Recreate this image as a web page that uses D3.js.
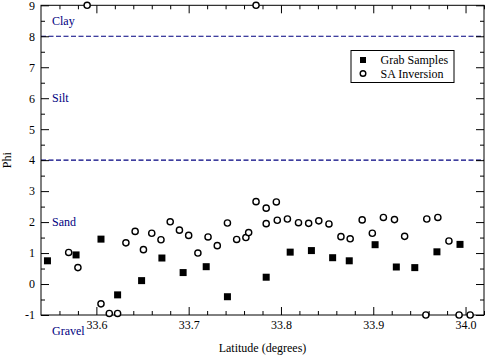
<!DOCTYPE html>
<html>
<head>
<meta charset="utf-8">
<script src="https://cdnjs.cloudflare.com/ajax/libs/d3/7.8.5/d3.min.js"></script>
<style>
  body {
    margin: 0;
    background: #fff;
  }

  svg, svg text {
    font-family: "Liberation Serif", "Times New Roman", Tinos, "DejaVu Serif", serif;
    font-size: 12px;
  }

  .axis path {
    display: none;
  }

  .axis line {
    stroke: #000;
  }

  .zone {
    fill: #000080;
  }

  .boundary {
    fill: none;
    stroke: #000080;
    stroke-width: 1.2px;
    stroke-dasharray: 5,2.5;
  }

  .grab {
    fill: #000;
  }

  .sa {
    fill: #fff;
    stroke: #000;
    stroke-width: 1.4px;
  }
</style>
</head>
<body>
<script>
  // Grab samples (filled squares)
  let grabLat = [33.547, 33.578, 33.605, 33.623, 33.649, 33.671, 33.694, 33.719, 33.742, 33.784,
    33.810, 33.833, 33.856, 33.874, 33.902, 33.925, 33.945, 33.969, 33.994];
  let grabPhi = [0.75, 0.94, 1.45, -0.35, 0.11, 0.84, 0.37, 0.56, -0.41, 0.22,
    1.03, 1.08, 0.85, 0.75, 1.27, 0.55, 0.53, 1.04, 1.28];

  // SA inversion results (open circles)
  let saLat = [33.570, 33.580, 33.590, 33.605, 33.614, 33.623, 33.632, 33.642, 33.651, 33.660,
    33.670, 33.680, 33.690, 33.700, 33.710, 33.721, 33.731, 33.742, 33.752, 33.762,
    33.765, 33.773, 33.773, 33.784, 33.784, 33.795, 33.796, 33.807, 33.819, 33.830,
    33.841, 33.852, 33.865, 33.875, 33.888, 33.899, 33.911, 33.923, 33.934, 33.957,
    33.958, 33.970, 33.982, 33.993, 34.005];
  let saPhi = [1.02, 0.53, 9.0, -0.64, -0.95, -0.95, 1.33, 1.70, 1.11, 1.64,
    1.43, 2.01, 1.74, 1.57, 1.00, 1.52, 1.24, 1.97, 1.44, 1.50,
    1.66, 2.66, 9.0, 2.45, 1.95, 2.65, 2.06, 2.10, 1.98, 1.96,
    2.04, 1.94, 1.53, 1.46, 2.07, 1.64, 2.15, 2.08, 1.54, -1.0,
    2.10, 2.15, 1.39, -1.0, -1.0];

  // sediment class labels and boundaries
  let zoneNames = ['Clay', 'Silt', 'Sand', 'Gravel'];
  let zonePhi = [8.5, 6, 2, -1.52];
  let boundaryPhi = [8, 4];

  // ticks
  let xTicks = [33.6, 33.7, 33.8, 33.9, 34.0];
  let xMinorTicks = [33.56, 33.58, 33.62, 33.64, 33.66, 33.68, 33.72, 33.74, 33.76, 33.78,
    33.82, 33.84, 33.86, 33.88, 33.92, 33.94, 33.96, 33.98, 34.02];
  let yTicks = [-1, 0, 1, 2, 3, 4, 5, 6, 7, 8, 9];
  let yMinorTicks = [-0.5, 0.5, 1.5, 2.5, 3.5, 4.5, 5.5, 6.5, 7.5, 8.5];

  let legendNames = ['Grab Samples', 'SA Inversion'];

  let serif = '"Liberation Serif", "Times New Roman", Tinos, "DejaVu Serif", serif';

  let width = 485;
  let height = 357;
  let plot = {left: 41, right: 484, top: 5.3, bottom: 315};

  let svg = d3.select('body').append('svg')
    .attr('width', width)
    .attr('height', height)
    .attr('font-family', serif);

  let scaleX = d3.scaleLinear()
    .domain([33.54, 34.02])
    .range([plot.left, plot.right]);

  let scaleY = d3.scaleLinear()
    .domain([-1, 9])
    .range([plot.bottom, plot.top]);

  // boundary lines between classes
  svg.selectAll('.boundary')
    .data(boundaryPhi)
    .enter().append('line')
    .attr('class', 'boundary')
    .attr('x1', plot.left)
    .attr('x2', plot.right)
    .attr('y1', function(d) { return scaleY(d); })
    .attr('y2', function(d) { return scaleY(d); });

  svg.selectAll('.zone')
    .data(zoneNames)
    .enter().append('text')
    .attr('class', 'zone')
    .attr('x', plot.left + 11)
    .attr('y', function(d, i) { return scaleY(zonePhi[i]); })
    .attr('dy', '0.35em')
    .text(function(d) { return d; });

  // x轴 bottom / top, ticks point inward
  svg.append('g')
    .attr('class', 'x axis')
    .attr('transform', 'translate(0,' + plot.bottom + ')')
    .call(d3.axisBottom(scaleX).tickValues(xTicks).tickFormat(d3.format('.1f'))
      .tickSizeInner(-8).tickSizeOuter(0).tickPadding(5));

  svg.append('g')
    .attr('class', 'x axis')
    .attr('transform', 'translate(0,' + plot.bottom + ')')
    .call(d3.axisBottom(scaleX).tickValues(xMinorTicks).tickFormat('')
      .tickSizeInner(-4).tickSizeOuter(0));

  svg.append('g')
    .attr('class', 'x axis')
    .attr('transform', 'translate(0,' + plot.top + ')')
    .call(d3.axisTop(scaleX).tickValues(xTicks).tickFormat('')
      .tickSizeInner(-8).tickSizeOuter(0));

  svg.append('g')
    .attr('class', 'x axis')
    .attr('transform', 'translate(0,' + plot.top + ')')
    .call(d3.axisTop(scaleX).tickValues(xMinorTicks).tickFormat('')
      .tickSizeInner(-4).tickSizeOuter(0));

  // y轴 left / right
  svg.append('g')
    .attr('class', 'y axis')
    .attr('transform', 'translate(' + plot.left + ',0)')
    .call(d3.axisLeft(scaleY).tickValues(yTicks).tickFormat(function(d) { return String(d); })
      .tickSizeInner(-8).tickSizeOuter(0).tickPadding(6));

  svg.append('g')
    .attr('class', 'y axis')
    .attr('transform', 'translate(' + plot.left + ',0)')
    .call(d3.axisLeft(scaleY).tickValues(yMinorTicks).tickFormat('')
      .tickSizeInner(-4).tickSizeOuter(0));

  svg.append('g')
    .attr('class', 'y axis')
    .attr('transform', 'translate(' + plot.right + ',0)')
    .call(d3.axisRight(scaleY).tickValues(yTicks).tickFormat('')
      .tickSizeInner(-8).tickSizeOuter(0));

  svg.append('g')
    .attr('class', 'y axis')
    .attr('transform', 'translate(' + plot.right + ',0)')
    .call(d3.axisRight(scaleY).tickValues(yMinorTicks).tickFormat('')
      .tickSizeInner(-4).tickSizeOuter(0));

  // d3 axes set their own font attrs, so override them
  svg.selectAll('.axis')
    .attr('font-family', serif)
    .attr('font-size', 12);

  svg.selectAll('.axis text')
    .attr('fill', '#000');

  // frame
  svg.append('rect')
    .attr('x', plot.left)
    .attr('y', plot.top)
    .attr('width', plot.right - plot.left)
    .attr('height', plot.bottom - plot.top)
    .attr('fill', 'none')
    .attr('stroke', '#000')
    .attr('stroke-width', 1);

  // axis titles
  svg.append('text')
    .attr('x', (plot.left + plot.right) / 2)
    .attr('y', 352)
    .attr('text-anchor', 'middle')
    .text('Latitude (degrees)');

  svg.append('text')
    .attr('transform', 'translate(11,' + (plot.top + plot.bottom) / 2 + ') rotate(-90)')
    .attr('text-anchor', 'middle')
    .text('Phi');

  // points
  let sq = 7;
  svg.selectAll('.grab')
    .data(grabLat)
    .enter().append('rect')
    .attr('class', 'grab')
    .attr('x', function(d) { return scaleX(d) - sq / 2; })
    .attr('y', function(d, i) { return scaleY(grabPhi[i]) - sq / 2; })
    .attr('width', sq)
    .attr('height', sq);

  svg.selectAll('.sa')
    .data(saLat)
    .enter().append('circle')
    .attr('class', 'sa')
    .attr('cx', function(d) { return scaleX(d); })
    .attr('cy', function(d, i) { return scaleY(saPhi[i]); })
    .attr('r', 3.1);

  // legend
  let legend = svg.append('g')
    .attr('transform', 'translate(351,50.5)');

  legend.append('rect')
    .attr('width', 103)
    .attr('height', 32)
    .attr('fill', '#fff')
    .attr('stroke', '#000')
    .attr('stroke-width', 1);

  legend.append('rect')
    .attr('class', 'grab')
    .attr('x', 9)
    .attr('y', 6.5)
    .attr('width', 6)
    .attr('height', 6);

  legend.append('circle')
    .attr('class', 'sa')
    .attr('cx', 12)
    .attr('cy', 23)
    .attr('r', 2.8);

  legend.selectAll('.legend-label')
    .data(legendNames)
    .enter().append('text')
    .attr('class', 'legend-label')
    .attr('x', 29.5)
    .attr('y', function(d, i) { return 9.5 + i * 13.5; })
    .attr('dy', '0.35em')
    .text(function(d) { return d; });
</script>
</body>
</html>
